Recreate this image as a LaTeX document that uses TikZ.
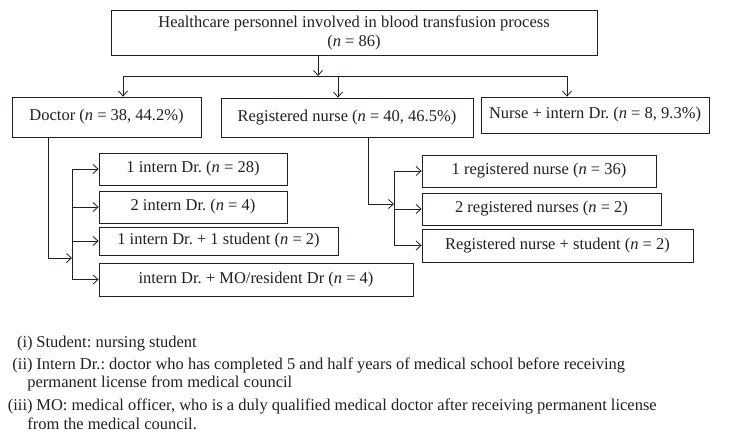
\documentclass[tikz,border=0pt]{standalone}
\usepackage{fontspec}
\setmainfont{Liberation Serif}
\usepackage{xcolor}
\usepackage{tikz}
\usetikzlibrary{arrows.meta,positioning}
\definecolor{flowink}{RGB}{35,31,32}
\frenchspacing

\begin{document}
\begin{tikzpicture}[x=1pt, y=-1pt, line width=0.8pt, color=flowink,
  box/.style={draw, inner sep=0pt, align=center, font=\fontsize{16.5}{19}\selectfont},
  arr/.style={-{Straight Barb[length=5pt,width=9pt]}},
  note/.style={inner sep=0pt, font=\fontsize{16.5}{19}\selectfont}]
\useasboundingbox (0,0) rectangle (730,439);
% top level
\node[box, minimum width=486, minimum height=45] (top) at (354,32.5) {Healthcare personnel involved in blood transfusion process\\(\textit{n} = 86)};
\node[box, minimum width=189, minimum height=40] (doctor) at (106.5,117) {Doctor (\textit{n} = 38, 44.2\%)};
\node[box, minimum width=252, minimum height=39] (rn) at (347,117.5) {Registered nurse (\textit{n} = 40, 46.5\%)};
\node[box, minimum width=228, minimum height=36] (nurse) at (595,115) {Nurse + intern Dr. (\textit{n} = 8, 9.3\%)};
% doctor branch
\node[box, minimum width=188, minimum height=32] (d1) at (193,169) {1 intern Dr. (\textit{n} = 28)};
\node[box, minimum width=188, minimum height=32] (d2) at (193,207) {2 intern Dr. (\textit{n} = 4)};
\node[box, minimum width=239, minimum height=28] (d3) at (218.5,241) {1 intern Dr. + 1 student (\textit{n} = 2)};
\node[box, minimum width=314, minimum height=33] (d4) at (256,279.5) {intern Dr. + MO/resident Dr (\textit{n} = 4)};
% nurse branch
\node[box, minimum width=234, minimum height=32] (r1) at (539,171) {1 registered nurse (\textit{n} = 36)};
\node[box, minimum width=239, minimum height=32] (r2) at (541.5,209) {2 registered nurses (\textit{n} = 2)};
\node[box, minimum width=271, minimum height=33] (r3) at (557.5,245.5) {Registered nurse + student (\textit{n} = 2)};
\coordinate (bar) at (0,76);
\coordinate (djoin) at (72,258);
\coordinate (rjoin) at (394,204);
% connectors
\draw[arr] ([xshift=-36]top.south) -- ([xshift=-36]top.south |- bar);
\draw ([xshift=16.5]doctor.north |- bar) -- ([xshift=-28]nurse.north |- bar);
\draw[arr] ([xshift=16.5]doctor.north |- bar) -- ([xshift=16.5]doctor.north);
\draw[arr] ([xshift=-9]rn.north |- bar) -- ([xshift=-9]rn.north);
\draw[arr] ([xshift=-28]nurse.north |- bar) -- ([xshift=-28]nurse.north);
\draw[arr] ([xshift=-58.5]doctor.south) |- (djoin);
\draw (d1.west -| djoin) -- (d4.west -| djoin);
\foreach \b in {d1,d2,d3,d4}
  \draw[arr] (\b.west -| djoin) -- (\b.west);
\draw[arr] ([xshift=21]rn.south) |- (rjoin);
\draw (r1.west -| rjoin) -- (r3.west -| rjoin);
\foreach \b in {r1,r2,r3}
  \draw[arr] (\b.west -| rjoin) -- (\b.west);
% notes
\node[note, anchor=base east] (n1) at (33,347) {(i)};
\node[note, anchor=base west] (t1) at (36,347) {Student: nursing student};
\node[note, anchor=base east] (n2) at (33,369) {(ii)};
\node[note, anchor=base west] (t2) at (36,369) {Intern Dr.: doctor who has completed 5 and half years of medical school before receiving};
\node[note, anchor=base west] (t2b) at (27,387) {permanent license from medical council};
\node[note, anchor=base east] (n3) at (33,410) {(iii)};
\node[note, anchor=base west] (t3) at (36,410) {MO: medical officer, who is a duly qualified medical doctor after receiving permanent license};
\node[note, anchor=base west] (t3b) at (27,429) {from the medical council.};
\end{tikzpicture}
\end{document}
